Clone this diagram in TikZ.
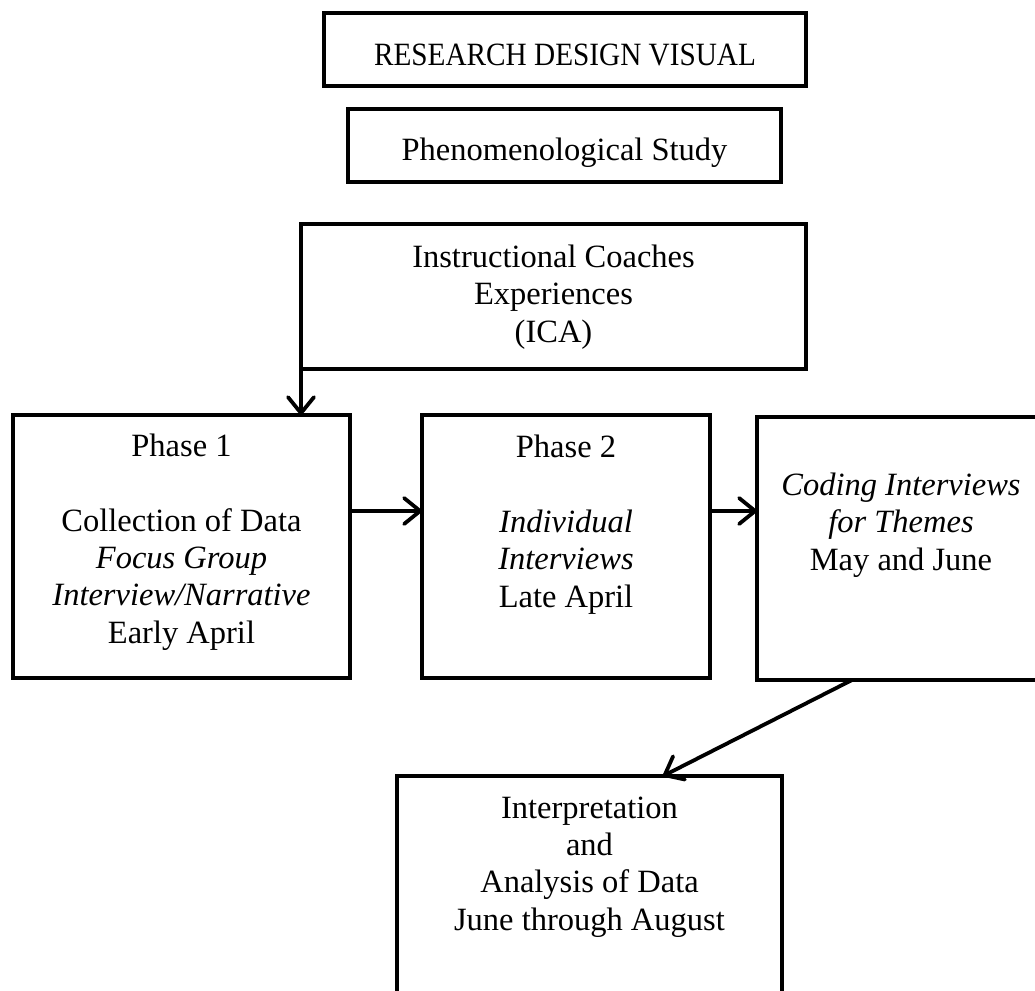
\documentclass[tikz,border=0pt]{standalone}
\usepackage{fontspec}
\setmainfont{Liberation Serif}
\newfontfamily\capsfont[FakeStretch=0.9]{Liberation Serif}
\usetikzlibrary{arrows.meta}
\begin{document}
\begin{tikzpicture}[x=1pt,y=-1pt]
\tikzset{
  box/.style={draw=black, line width=3.8pt, rectangle, inner sep=0pt, outer sep=0pt},
  % multi-line texts are placed by the baseline of their last line
  txt/.style={font=\fontsize{32.5}{37.3}\selectfont, align=center, anchor=base, inner sep=0pt},
  arr/.style={line width=3.8pt,
    -{Straight Barb[length=16pt,width=26pt,line width=3.8pt,line cap=round,line join=round]}},
}
\useasboundingbox (0,0) rectangle (1035,990);
\clip (0,0) rectangle (1035,990);

% boxes
\node[box, minimum width=482pt, minimum height=73pt]  (b1) at (565,49.5) {};
\node[box, minimum width=433pt, minimum height=73pt]  (b2) at (564.5,145.5) {};
\node[box, minimum width=505pt, minimum height=145pt] (b3) at (553.5,296.5) {};
\node[box, minimum width=337pt, minimum height=263pt] (b4) at (181.5,546.5) {};
\node[box, minimum width=288pt, minimum height=263pt] (b5) at (566,546.5) {};
\node[box, minimum width=288pt, minimum height=263pt] (b6) at (901,548.5) {};
\node[box, minimum width=385pt, minimum height=270pt] (b7) at (589.5,911) {};

% texts
\node[txt] (t1) at (565,65) {\capsfont RESEARCH DESIGN VISUAL};
\node[txt] (t2) at (564.5,160) {Phenomenological Study};
\node[txt] (t3) at (553.5,342) {Instructional Coaches\\Experiences\\(ICA)};
\node[txt] (t4) at (181.5,643) {Phase 1\\[37.3pt]Collection of Data\\\textit{Focus Group}\\\textit{Interview/Narrative}\\Early April};
\node[txt] (t5) at (566,607) {Phase 2\\[37.3pt]\textit{Individual}\\\textit{Interviews}\\Late April};
\node[txt] (t6) at (901,570) {\textit{Coding Interviews}\\\textit{for Themes}\\May and June};
\node[txt] (t7) at (589.5,930) {Interpretation\\and\\Analysis of Data\\June through August};

% connectors
\draw[arr] (b3.south west) -- (b3.south west |- b4.north);
\draw[arr] (b4.east |- 0,511) -- (b5.west |- 0,511);
\draw[arr] (b5.east |- 0,511) -- (b6.west |- 0,511);
\draw[arr] (b6.south -| 852,0) -- (b7.north -| 663,0);
\end{tikzpicture}
\end{document}
